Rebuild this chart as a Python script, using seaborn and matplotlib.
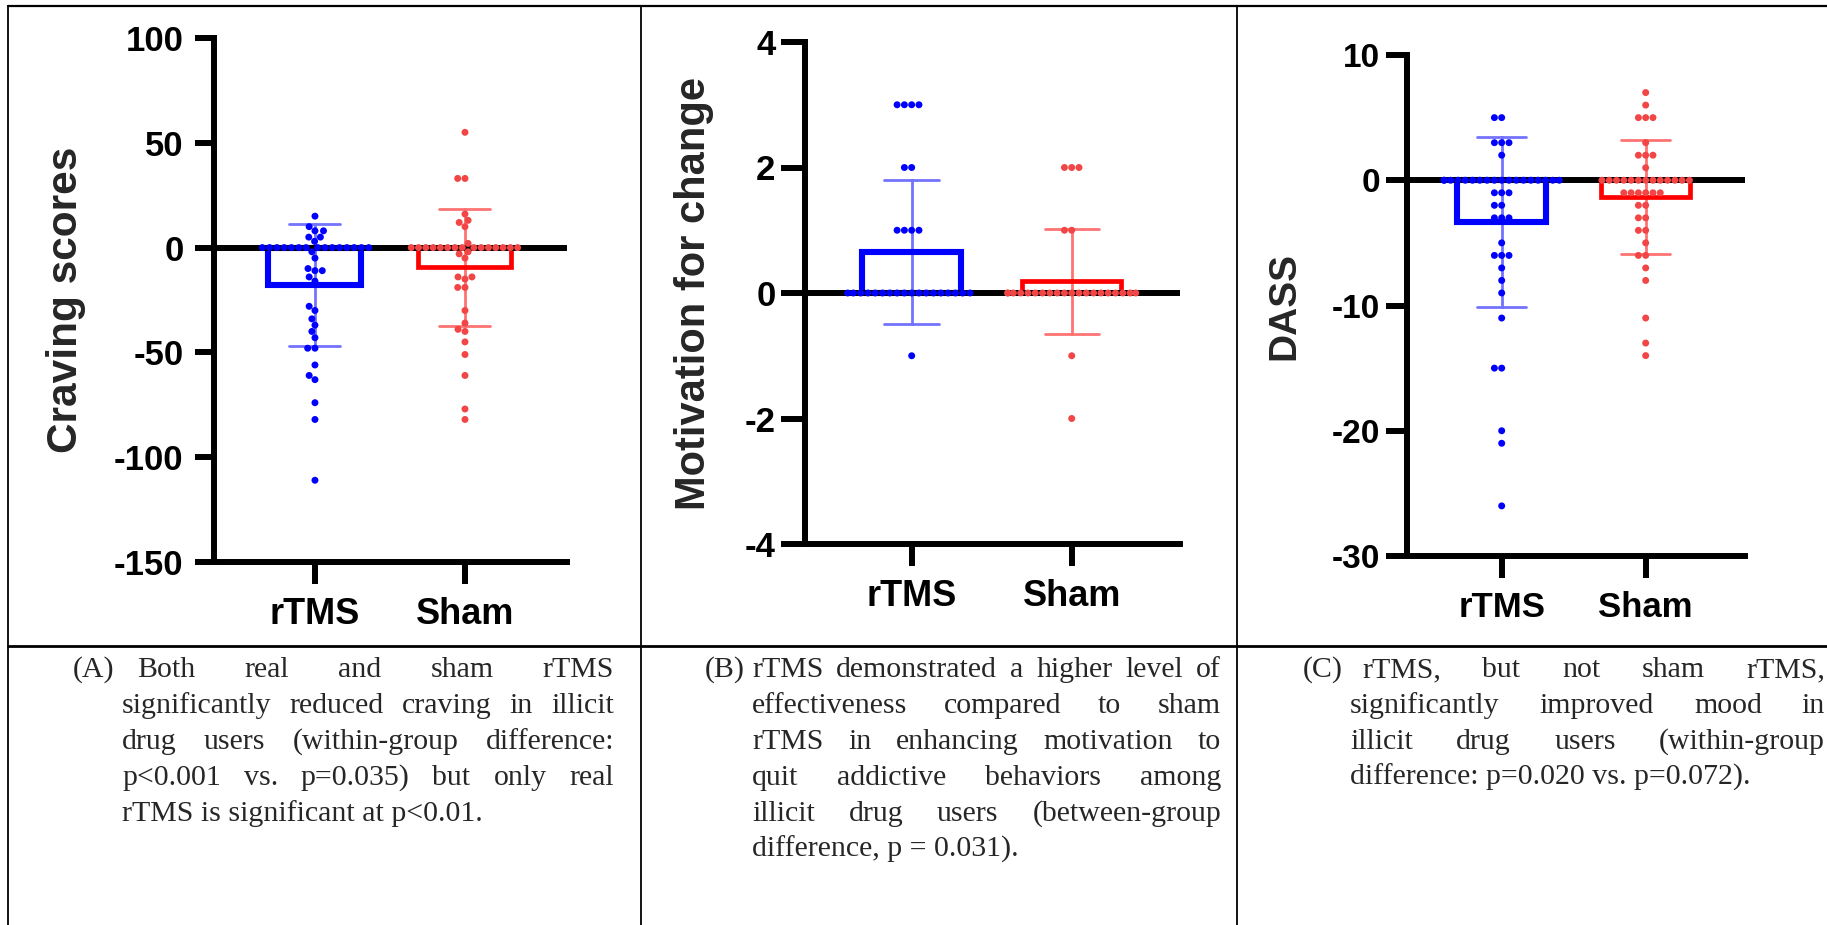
import pandas as pd
import matplotlib.pyplot as plt
from matplotlib.lines import Line2D
import seaborn as sns

groups = ["rTMS", "Sham"]

# (A) craving score change
craving_rtms = [15, 10, 8, 8, 5, 5, 3,
                0, 0, 0, 0, 0, 0, 0, 0, 0, 0, 0, 0, 0, 0, 0,
                -2, -5, -10, -11, -11, -14, -16, -28, -30, -34, -37,
                -40, -43, -48, -48, -56, -61, -63, -74, -82, -111]
craving_sham = [55, 33, 33, 16, 13, 12, 10, 2,
                0, 0, 0, 0, 0, 0, 0, 0, 0, 0, 0, 0, 0, 0, 0,
                -2, -3, -5, -14, -14, -15, -19, -19, -30, -36, -39,
                -40, -45, -51, -61, -77, -82]

# (B) motivation for change
motivation_rtms = [3, 3, 3, 3, 2, 2, 1, 1, 1, 1,
                   0, 0, 0, 0, 0, 0, 0, 0, 0, 0, 0, 0, 0, 0, 0, 0, 0, 0,
                   -1]
motivation_sham = [2, 2, 2, 1, 1,
                   0, 0, 0, 0, 0, 0, 0, 0, 0, 0, 0, 0, 0, 0, 0, 0, 0, 0, 0, 0,
                   -1, -2]

# (C) DASS change
dass_rtms = [5, 5, 3, 3, 3, 2,
             0, 0, 0, 0, 0, 0, 0, 0, 0, 0, 0, 0, 0, 0, 0, 0, 0, 0,
             -1, -1, -1, -2, -2, -3, -3, -3, -5, -6, -6, -6, -7, -8, -9,
             -11, -15, -15, -20, -21, -26]
dass_sham = [7, 6, 5, 5, 5, 3, 2, 2, 2, 1,
             0, 0, 0, 0, 0, 0, 0, 0, 0, 0, 0, 0, 0,
             -1, -1, -1, -1, -1, -1, -2, -2, -3, -3, -4, -4, -5, -6, -6,
             -7, -8, -11, -13, -14]

caption_a = ["Both real and sham rTMS",
             "significantly reduced craving in illicit",
             "drug users (within-group difference:",
             "p<0.001 vs. p=0.035) but only real",
             "rTMS is significant at p<0.01."]
caption_b = ["rTMS demonstrated a higher level of",
             "effectiveness compared to sham",
             "rTMS in enhancing motivation to",
             "quit addictive behaviors among",
             "illicit drug users (between-group",
             "difference, p = 0.031)."]
caption_c = ["rTMS, but not sham rTMS,",
             "significantly improved mood in",
             "illicit drug users (within-group",
             "difference: p=0.020 vs. p=0.072)."]

W, H = 1827, 925

sns.set_style("ticks", {"axes.edgecolor": "black", "xtick.color": "black",
                        "ytick.color": "black"})
plt.rcParams["font.family"] = ["Liberation Sans", "DejaVu Sans"]
plt.rcParams["axes.unicode_minus"] = False

bar_colors = {"rTMS": "#0000ff", "Sham": "#ff0000"}
dot_colors = {"rTMS": "#0000ff", "Sham": "#f24646"}

fig = plt.figure(figsize=(W / 100, H / 100), dpi=100)


def px_axes(left, right, top, bottom):
    return fig.add_axes([left / W, 1 - bottom / H, (right - left) / W, (bottom - top) / H])


def draw_panel(ax, rtms, sham, ylabel, yticks, xlim, fonts, label_x, ypad, ylen):
    df = pd.DataFrame({"group": ["rTMS"] * len(rtms) + ["Sham"] * len(sham),
                       "value": rtms + sham})
    sns.barplot(df, x="group", y="value", hue="group", order=groups,
                palette=bar_colors, errorbar="sd", fill=False, width=0.62,
                linewidth=3.8, capsize=0.34,
                err_kws={"linewidth": 2, "alpha": 0.55}, legend=False, ax=ax)
    # blue outline is drawn a bit heavier than the red one
    for patch, lw in zip(ax.patches, [4.4, 3.4]):
        patch.set_linewidth(lw)
    ax.axhline(0, color="black", lw=4.3, zorder=2)
    sns.swarmplot(df, x="group", y="value", hue="group", order=groups,
                  palette=dot_colors, size=5, legend=False, zorder=3, ax=ax)

    ax.set_ylim(yticks[0], yticks[-1])
    ax.set_yticks(yticks)
    ax.set_xlim(*xlim)
    sns.despine(ax=ax)
    for s in ["left", "bottom"]:
        ax.spines[s].set_linewidth(4.3)
    ax.tick_params(axis="y", length=ylen, width=4.3, labelsize=fonts[0], pad=ypad)
    ax.tick_params(axis="x", length=16, width=4.3, labelsize=fonts[1], pad=9)
    ax.set_xlabel("")
    ax.set_ylabel(ylabel, fontsize=fonts[2], fontweight="bold")
    ax.yaxis.set_label_coords(label_x, 0.5)
    ax.yaxis.label.set_verticalalignment("center")
    for t in ax.get_xticklabels() + ax.get_yticklabels():
        t.set_fontweight("bold")


ax_a = px_axes(214, 567, 38, 562)
draw_panel(ax_a, craving_rtms, craving_sham, "Craving scores",
           [-150, -100, -50, 0, 50, 100], (-0.673, 1.68), (25, 26, 30.5), -0.419, 8, 14)

ax_b = px_axes(804.6, 1179.6, 42, 544)
draw_panel(ax_b, motivation_rtms, motivation_sham, "Motivation for change",
           [-4, -2, 0, 2, 4], (-0.669, 1.674), (25, 26, 30), -0.296, 4, 17)

ax_c = px_axes(1406.8, 1744.6, 55, 556)
draw_panel(ax_c, dass_rtms, dass_sham, "DASS",
           [-30, -20, -10, 0, 10], (-0.659, 1.687), (24, 25, 28), -0.362, 4, 15)


# table borders
def rule(x0, y0, x1, y1, lw):
    fig.add_artist(Line2D([x0 / W, x1 / W], [1 - y0 / H, 1 - y1 / H],
                          transform=fig.transFigure, color="black", lw=lw))


rule(8, 6, W, 6, 1.6)
rule(8, 6, 8, H, 1.3)
rule(641, 6, 641, H, 1.3)
rule(1237, 6, 1237, H, 1.3)
rule(8, 646, W, 646, 2.0)

# captions, justified like the source document
baselines = [677, 713, 749, 785, 821, 857]
cap_font = dict(family="Liberation Serif", fontsize=21.5, va="baseline", ha="left")


def caption(tag, tag_x, first_x, body_x, right_x, lines):
    renderer = fig.canvas.get_renderer()
    fig.text(tag_x / W, 1 - baselines[0] / H, tag, **cap_font)
    for i, line in enumerate(lines):
        y = 1 - baselines[i] / H
        x0 = first_x if i == 0 else body_x
        if i == len(lines) - 1:
            fig.text(x0 / W, y, line, **cap_font)
            continue
        words = [fig.text(0, y, w, **cap_font) for w in line.split()]
        widths = [t.get_window_extent(renderer).width for t in words]
        gap = (right_x - x0 - sum(widths)) / (len(words) - 1)
        x = x0
        for t, w in zip(words, widths):
            t.set_x(x / W)
            x += w + gap


caption("(A)", 73, 137, 122, 614, caption_a)
caption("(B)", 705, 752, 752, 1221, caption_b)
caption("(C)", 1303, 1362, 1350, 1825, caption_c)

fig.savefig("out.png", dpi=100)
